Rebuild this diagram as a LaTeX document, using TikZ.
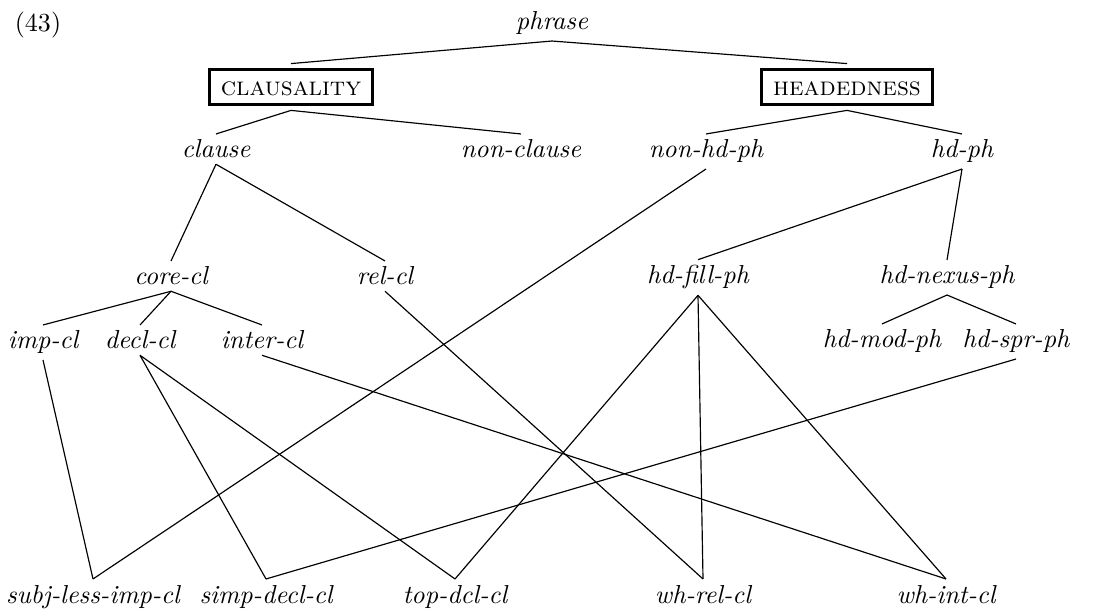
\documentclass[tikz,border=0pt]{standalone}
\usepackage{fontspec}
\begin{document}
\begin{tikzpicture}[x=0.3846pt,y=-0.3846pt,
  tn/.style={font=\itshape, inner xsep=1pt, inner ysep=2.3pt, outer sep=0pt, anchor=base},
  bx/.style={draw, line width=1pt, inner xsep=4.4pt, inner ysep=3.6pt, text height=6.2pt, text depth=0pt, outer sep=2.3pt, font=\scshape},
  ln/.style={line width=0.45pt}]
\useasboundingbox (0,0) rectangle (1099,612);
\node[anchor=base] (num) at (38,32) {(43)};
\node[tn] (phrase) at (552,30) {phrase};
\node[bx] (claus) at (291,87) {clausality};
\node[bx] (head) at (847,87) {headedness};
\node[tn] (clause) at (216,158) {clause};
\node[tn] (nonclause) at (521,158) {non-clause};
\node[tn] (nonhd) at (706,158) {non-hd-ph};
\node[tn] (hdph) at (962,158) {hd-ph};
\node[tn] (core) at (171,285) {core-cl};
\node[tn] (rel) at (385,285) {rel-cl};
\node[tn] (fill) at (698,284) {hd-fill-ph};
\node[tn] (nexus) at (947,284) {hd-nexus-ph};
\node[tn] (imp) at (43,349) {imp-cl};
\node[tn] (decl) at (140,349) {decl-cl};
\node[tn] (inter) at (262,349) {inter-cl};
\node[tn] (mod) at (882,348) {hd-mod-ph};
\node[tn] (spr) at (1016,348) {hd-spr-ph};
\node[tn] (subj) at (93,603) {subj-less-imp-cl};
\node[tn] (simp) at (266,603) {simp-decl-cl};
\node[tn] (top) at (455,603) {top-dcl-cl};
\node[tn] (whrel) at (703,603) {wh-rel-cl};
\node[tn] (whint) at (946,603) {wh-int-cl};
\begin{scope}[ln]
\draw (phrase.south) -- (claus.north);
\draw (phrase.south) -- (head.north);
\draw (claus.south) -- (clause.north);
\draw (claus.south) -- (nonclause.north);
\draw (head.south) -- (nonhd.north);
\draw (head.south) -- (hdph.north);
\draw (clause.south) -- (core.north);
\draw (clause.south) -- (rel.north);
\draw (hdph.south) -- (fill.north);
\draw (hdph.south) -- (nexus.north);
\draw (core.south) -- (imp.north);
\draw (core.south) -- (decl.north);
\draw (core.south) -- (inter.north);
\draw (nexus.south) -- (mod.north);
\draw (nexus.south) -- (spr.north);
\draw (imp.south) -- (subj.north);
\draw (nonhd.south) -- (subj.north);
\draw (decl.south) -- (simp.north);
\draw (decl.south) -- (top.north);
\draw (spr.south) -- (simp.north);
\draw (inter.south) -- (whint.north);
\draw (rel.south) -- (whrel.north);
\draw (fill.south) -- (top.north);
\draw (fill.south) -- (whrel.north);
\draw (fill.south) -- (whint.north);
\end{scope}
\end{tikzpicture}
\end{document}
